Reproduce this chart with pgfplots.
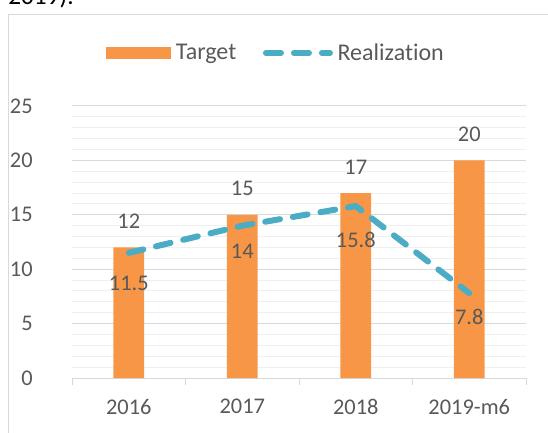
\documentclass[border=0pt]{standalone}
\usepackage{pgfplots}
\pgfplotsset{compat=1.18}
\usepackage{fontspec}
\setmainfont[Ligatures=NoCommon]{Carlito}
\definecolor{barC}{HTML}{F79646}
\definecolor{lineC}{HTML}{4BACC6}
\definecolor{txt}{HTML}{595959}
\definecolor{gridC}{HTML}{D9D9D9}
\definecolor{minorC}{HTML}{EFEFEF}
\newcommand\cfont{\fontsize{16.8}{20}\selectfont}
\newcommand\lfont{\fontsize{18}{21.6}\selectfont}
\begin{document}
\begin{tikzpicture}
\useasboundingbox (0pt,0pt) rectangle (411pt,324pt);
\begin{scope}
\clip (0pt,0pt) rectangle (411pt,324pt);
\node[anchor=base west, inner sep=0pt, font=\fontsize{19}{22}\selectfont] at (6pt,320.5pt) {2019).};
\end{scope}
\draw[gridC, line width=0.75pt] (6pt,-1pt) -- (6pt,312.75pt) -- (412pt,312.75pt);
\begin{axis}[
  at={(54pt,40.5pt)}, anchor=south west,
  scale only axis, width=340.5pt, height=204pt,
  xmin=-0.5, xmax=3.5, ymin=0, ymax=25,
  clip=false,
  xtick={0,1,2,3}, xticklabels={2016,2017,2018,2019-m6},
  major tick length=0pt,
  extra x ticks={-0.5,0.5,1.5,2.5,3.5}, extra x tick labels={},
  extra x tick style={major tick length=5.25pt, tick align=outside, tick style={draw=gridC, line width=0.75pt}},
  ytick={0,5,10,15,20,25}, minor y tick num=4,
  ymajorgrids, yminorgrids,
  major grid style={gridC, line width=0.75pt},
  minor grid style={minorC, line width=0.75pt},
  axis x line*=bottom, axis y line*=left,
  y axis line style={draw=none},
  x axis line style={draw=gridC, line width=0.75pt, -},
  ytick style={draw=none}, minor y tick style={draw=none},
  tick label style={font=\cfont, text=txt},
  /pgf/number format/assume math mode=true,
  xticklabel style={yshift=-12.5pt},
  yticklabel style={xshift=-26pt},
  legend columns=2,
  legend style={at={(0.075,1.195)}, anchor=west, draw=none, fill=none, inner sep=0pt,
    font=\lfont, text=txt,
    /tikz/every odd column/.append style={column sep=1.5pt},
    /tikz/every even column/.append style={column sep=18pt}},
]
\addplot[ybar, bar width=0.273, bar shift=0pt, fill=barC, draw=none,
  nodes near coords,
  nodes near coords style={anchor=center, yshift=19.5pt, text=txt, font=\cfont},
  legend image code/.code={\fill[barC] (0pt,-4.5pt) rectangle (48.75pt,4.5pt);}]
  coordinates {(0,12) (1,15) (2,17) (3,20)};
\addplot[lineC, line width=4.5pt, dash pattern=on 11.25pt off 9.75pt, line cap=round, mark=none,
  nodes near coords,
  visualization depends on={\thisrow{off}\as\off},
  nodes near coords style={anchor=center, yshift=-\off pt, text=txt, font=\cfont},
  legend image code/.code={\draw[lineC, line width=4.5pt, dash pattern=on 11.25pt off 9.75pt, line cap=round] (2.25pt,0pt) -- (50.25pt,0pt);}]
  table {
x y off
0 11.5 22.5
1 14 19.5
2 15.8 25.5
3 7.8 18
};
\legend{Target, Realization}
\end{axis}
\end{tikzpicture}
\end{document}
